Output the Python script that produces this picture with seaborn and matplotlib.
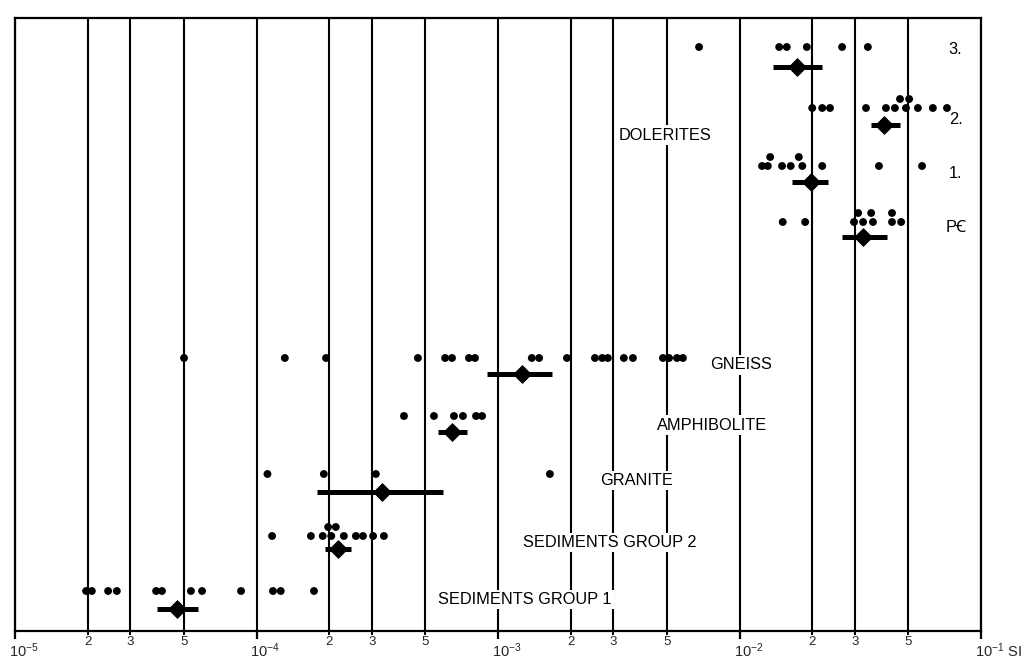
import numpy as np
import pandas as pd
import matplotlib
matplotlib.use('Agg')
import matplotlib.pyplot as plt
import matplotlib.ticker as mticker
import matplotlib.transforms as mtransforms
import seaborn as sns

# susceptibility readings (SI), one list per rock group; *_up are the stacked (repeated) dots
dol3 = [6.8e-3, 1.46e-2, 1.57e-2, 1.90e-2, 2.66e-2, 3.40e-2]
dol3_up = []
dol2 = [2.00e-2, 2.20e-2, 2.37e-2, 3.34e-2, 4.04e-2, 4.40e-2, 4.89e-2, 5.48e-2, 6.32e-2, 7.23e-2]
dol2_up = [4.62e-2, 5.04e-2]
dol1 = [1.24e-2, 1.31e-2, 1.50e-2, 1.63e-2, 1.82e-2, 2.20e-2, 3.78e-2, 5.70e-2]
dol1_up = [1.34e-2, 1.76e-2]
pc = [1.51e-2, 1.87e-2, 2.98e-2, 3.25e-2, 3.57e-2, 4.28e-2, 4.67e-2]
pc_up = [3.10e-2, 3.51e-2, 4.28e-2]
gneiss = [5.01e-5, 1.31e-4, 1.94e-4, 4.66e-4, 6.04e-4, 6.45e-4, 7.58e-4, 8.03e-4,
          1.38e-3, 1.48e-3, 1.93e-3, 2.52e-3, 2.70e-3, 2.85e-3, 3.32e-3, 3.62e-3,
          4.82e-3, 5.11e-3, 5.51e-3, 5.83e-3]
gneiss_up = []
amphibolite = [4.08e-4, 5.43e-4, 6.57e-4, 7.16e-4, 8.11e-4, 8.59e-4]
amphibolite_up = []
granite = [1.11e-4, 1.90e-4, 3.12e-4, 1.64e-3]
granite_up = []
sed2 = [1.16e-4, 1.68e-4, 1.88e-4, 2.04e-4, 2.30e-4, 2.58e-4, 2.76e-4, 3.04e-4, 3.37e-4]
sed2_up = [1.98e-4, 2.13e-4]
sed1 = [1.97e-5, 2.08e-5, 2.43e-5, 2.64e-5, 3.84e-5, 4.06e-5, 5.35e-5, 5.95e-5,
        8.63e-5, 1.17e-4, 1.26e-4, 1.73e-4]
sed1_up = []

groups = ['dol3', 'dol2', 'dol1', 'pc', 'gneiss', 'amphibolite', 'granite', 'sed2', 'sed1']
readings = [dol3, dol2, dol1, pc, gneiss, amphibolite, granite, sed2, sed1]
readings_up = [dol3_up, dol2_up, dol1_up, pc_up, gneiss_up, amphibolite_up, granite_up, sed2_up, sed1_up]

# mean value and its spread for each group
means = [1.73e-2, 3.96e-2, 1.98e-2, 3.25e-2, 1.26e-3, 6.45e-4, 3.31e-4, 2.17e-4, 4.69e-5]
low = [1.38e-2, 3.51e-2, 1.65e-2, 2.66e-2, 9.00e-4, 5.65e-4, 1.78e-4, 1.92e-4, 3.87e-5]
high = [2.20e-2, 4.62e-2, 2.32e-2, 4.08e-2, 1.67e-3, 7.44e-4, 5.92e-4, 2.46e-4, 5.72e-5]

decade_ticks = [1e-5, 1e-4, 1e-3, 1e-2, 1e-1]
decade_labels = [r'$\mathregular{10^{-5}}$', r'$\mathregular{10^{-4}}$', r'$\mathregular{10^{-3}}$',
                 r'$\mathregular{10^{-2}}$', r'$\mathregular{10^{-1}}$ SI']

# layout: vertical row positions (drawn top to bottom)
row_y = [47, 108, 166, 222, 358, 416, 474, 536, 591]
mean_y = [67, 125, 182, 237, 374, 432, 492, 549, 609]
stack_step = 9

rows = []
for g, y, vals, ups in zip(groups, row_y, readings, readings_up):
    for v in vals:
        rows.append({'group': g, 'value': v, 'y': y})
    for v in ups:
        rows.append({'group': g, 'value': v, 'y': y - stack_step})
dots = pd.DataFrame(rows)
summary = pd.DataFrame({'group': groups, 'mean': means, 'low': low, 'high': high, 'y': mean_y})

sns.set_style('white')
plt.rcParams['font.family'] = ['Liberation Sans', 'Noto Sans', 'DejaVu Sans']
plt.rcParams['mathtext.fontset'] = 'custom'
plt.rcParams['mathtext.rm'] = 'Liberation Sans'
plt.rcParams['mathtext.it'] = 'Liberation Sans'

fig = plt.figure(figsize=(10.26, 6.6), dpi=100)
ax = fig.add_axes([15 / 1026, 1 - 631 / 660, 966 / 1026, 613 / 660])
ax.set_xscale('log')

ax.hlines(summary['y'], summary['low'], summary['high'], color='black', lw=3.6, zorder=3)
sns.scatterplot(data=dots, x='value', y='y', color='black', s=32, edgecolor='none',
                ax=ax, zorder=4, legend=False)
sns.scatterplot(data=summary, x='mean', y='y', color='black', marker='D', s=80,
                edgecolor='black', ax=ax, zorder=5, legend=False)

ax.set_xlim(1e-5, 1e-1)
ax.set_ylim(631, 18)
ax.set_xlabel('')
ax.set_ylabel('')
ax.set_yticks([])

ax.xaxis.set_major_locator(mticker.FixedLocator(decade_ticks))
ax.xaxis.set_major_formatter(mticker.FixedFormatter(decade_labels))
ax.xaxis.set_minor_locator(mticker.LogLocator(base=10, subs=(2, 3, 5), numticks=20))
ax.xaxis.set_minor_formatter(mticker.FuncFormatter(
    lambda v, p: str(int(round(v / 10 ** np.floor(np.log10(v) + 1e-9))))))
ax.tick_params(axis='x', which='major', direction='out', length=6, width=1.6,
               color='black', labelsize=10.5, pad=1.5, bottom=True)
ax.tick_params(axis='x', which='minor', direction='out', length=3, width=1.4,
               color='black', labelsize=9.5, pad=0.5, bottom=True)
ax.grid(True, which='both', axis='x', color='black', lw=1.5)
ax.set_axisbelow(True)
for s in ax.spines.values():
    s.set_visible(True)
    s.set_color('black')
    s.set_linewidth(1.6)

shift = mtransforms.ScaledTranslation(-6 / 100, 0, fig.dpi_scale_trans)
for lbl in ax.get_xticklabels():
    lbl.set_ha('left')
    lbl.set_transform(lbl.get_transform() + shift)

txt = dict(transform=ax.transAxes, fontsize=11.8, ha='center', va='center', color='black',
           zorder=2, bbox=dict(facecolor='white', edgecolor='none', pad=1.5))
ax.text(0.973, 0.948, '3.', **txt)
ax.text(0.974, 0.834, '2.', **txt)
ax.text(0.974, 0.747, '1.', **txt)
ax.text(0.974, 0.659, 'PꞒ', **txt)
ax.text(0.673, 0.809, 'DOLERITES', **txt)
ax.text(0.752, 0.434, 'GNEISS', **txt)
ax.text(0.722, 0.336, 'AMPHIBOLITE', **txt)
ax.text(0.643, 0.245, 'GRANITE', **txt)
ax.text(0.616, 0.144, 'SEDIMENTS GROUP 2', **txt)
ax.text(0.528, 0.051, 'SEDIMENTS GROUP 1', **txt)

fig.savefig('out.png', dpi=100)
